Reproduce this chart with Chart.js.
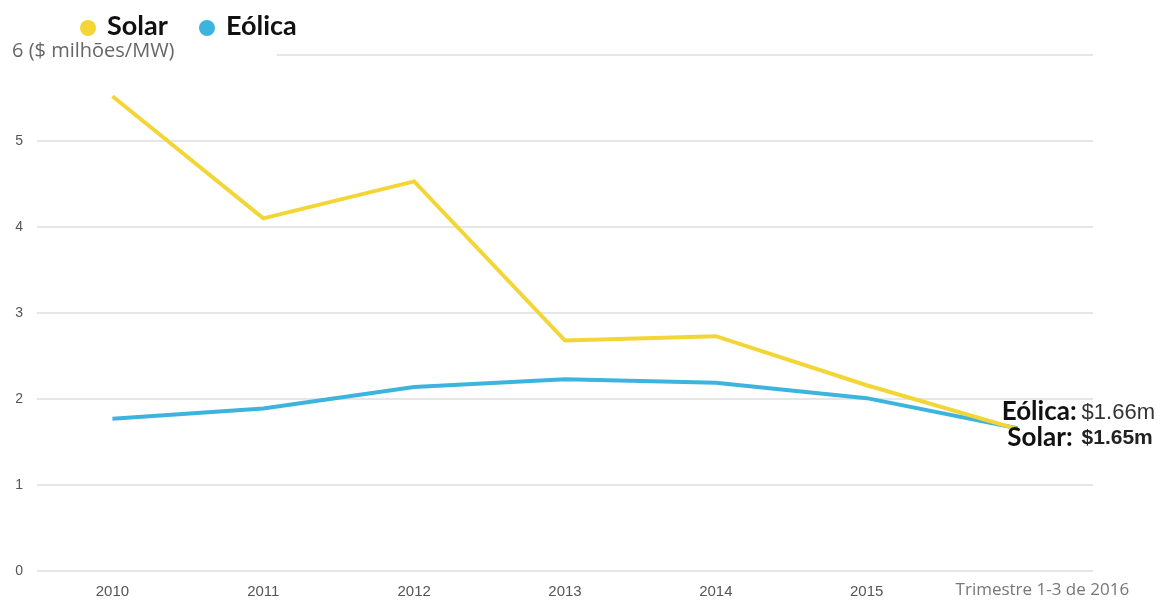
<!DOCTYPE html>
<html>
<head>
<meta charset="utf-8">
<script src="https://cdn.jsdelivr.net/npm/chart.js@4"></script>
<style>
  html, body { margin: 0; padding: 0; background: #fff; }
  #wrap { width: 1169px; height: 601px; }
</style>
</head>
<body>
<div id="wrap"><canvas id="chartCusto"></canvas></div>
<script>
var anos = ['2010', '2011', '2012', '2013', '2014', '2015', 'Trimestre 1-3 de 2016'];
var custoSolar = [5.52, 4.10, 4.53, 2.68, 2.73, 2.16, 1.65];
var custoEolica = [1.77, 1.89, 2.14, 2.23, 2.19, 2.01, 1.66];
var rotulosFinais = ['$1.65m', '$1.66m'];

var amarelo = '#f4d536';
var azul = '#3db4de';

// legenda propria no topo, com bolinhas
var legendaTopo = {
  id: 'legendaTopo',
  afterDraw: function(chart) {
    var ctx = chart.ctx;
    ctx.save();
    ctx.font = 'bold 27px Lato';
    ctx.textBaseline = 'middle';
    var x = 88;
    chart.data.datasets.forEach(function(ds) {
      ctx.fillStyle = ds.borderColor;
      ctx.beginPath();
      ctx.arc(x, 28, 8, 0, Math.PI * 2);
      ctx.fill();
      ctx.fillStyle = '#111';
      ctx.textAlign = 'left';
      ctx.fillText(ds.label, x + 19, 26);
      x += 119;
    });
    ctx.restore();
  }
};

// titulo do eixo y no lugar do "6", rotulos finais e o ultimo rotulo do eixo x
var textosExtras = {
  id: 'textosExtras',
  afterDraw: function(chart) {
    var ctx = chart.ctx;
    var xs = chart.scales.x;
    var ys = chart.scales.y;
    ctx.save();

    ctx.fillStyle = '#fff';
    ctx.fillRect(0, ys.getPixelForValue(6) - 14, 277, 28);
    ctx.fillStyle = '#666';
    ctx.font = '20px "Open Sans"';
    ctx.textAlign = 'left';
    ctx.textBaseline = 'middle';
    ctx.fillText('6 ($ milhões/MW)', 12, ys.getPixelForValue(6) - 4);

    var ult = anos.length - 1;
    ctx.fillStyle = '#777';
    ctx.font = '17px "Open Sans"';
    ctx.fillText(anos[ult], xs.getPixelForValue(ult) - 62, 590);

    var px = xs.getPixelForValue(ult);
    var py = ys.getPixelForValue(custoEolica[ult]);
    ctx.textAlign = 'right';
    ctx.fillStyle = '#111';
    ctx.font = 'bold 26px Lato';
    ctx.fillText('Eólica:', px + 59, py - 17);
    ctx.fillText('Solar:', px + 55, py + 9);
    ctx.textAlign = 'left';
    ctx.fillStyle = '#333';
    ctx.font = '22px "Liberation Sans"';
    ctx.fillText(rotulosFinais[1], px + 64, py - 15);
    ctx.font = 'bold 21px "Liberation Sans"';
    ctx.fillStyle = '#222';
    ctx.fillText(rotulosFinais[0], px + 64, py + 10);
    ctx.restore();
  }
};

var ctx = document.getElementById('chartCusto').getContext('2d');
var chart = new Chart(ctx, {
  type: 'line',
  data: {
    labels: anos,
    datasets: [
      {
        label: 'Solar',
        data: custoSolar,
        borderColor: amarelo,
        backgroundColor: amarelo,
        borderWidth: 4,
        pointRadius: 0,
        tension: 0
      },
      {
        label: 'Eólica',
        data: custoEolica,
        borderColor: azul,
        backgroundColor: azul,
        borderWidth: 4,
        pointRadius: 0,
        tension: 0
      }
    ]
  },
  options: {
    responsive: true,
    maintainAspectRatio: false,
    animation: false,
    layout: {
      padding: { top: 55, right: 76, bottom: 0, left: 0 }
    },
    plugins: {
      legend: { display: false },
      tooltip: { enabled: false }
    },
    scales: {
      x: {
        offset: true,
        grid: { display: false },
        border: { display: false },
        ticks: {
          color: '#555',
          padding: 4,
          font: { family: 'Liberation Sans', size: 15 },
          callback: function(val, i) {
            return i === anos.length - 1 ? '' : anos[i];
          }
        },
        afterFit: function(scale) { scale.height = 30; }
      },
      y: {
        min: 0,
        max: 6,
        border: { display: false },
        grid: { color: '#e6e6e6', lineWidth: 2, drawTicks: false },
        ticks: {
          stepSize: 1,
          color: '#555',
          padding: 14,
          font: { family: 'Liberation Sans', size: 14 },
          callback: function(v) { return v === 6 ? '' : v; }
        },
        afterFit: function(scale) { scale.width = 37; }
      }
    }
  },
  plugins: [legendaTopo, textosExtras]
});
</script>
</body>
</html>
